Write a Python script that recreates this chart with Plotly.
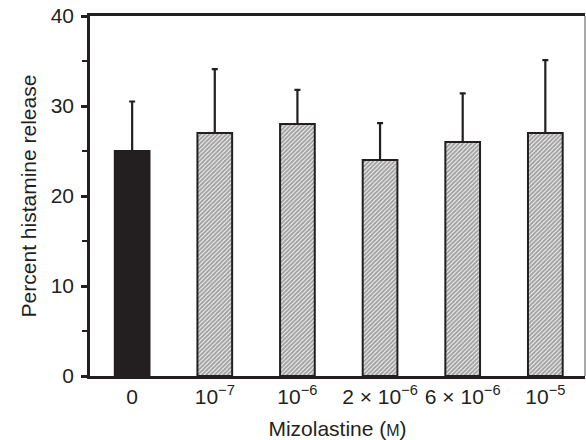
import plotly.graph_objects as go

# Data
categories = ["0", "10<sup>−7</sup>", "10<sup>−6</sup>", "2 × 10<sup>−6</sup>", "6 × 10<sup>−6</sup>", "10<sup>−5</sup>"]
values = [25, 27, 28, 24, 26, 27]
errors_up = [5.5, 7.1, 3.8, 4.1, 5.4, 8.1]
y_ticks = [0, 10, 20, 30, 40]

ink = "#231f20"
positions = list(range(len(categories)))

fig = go.Figure()
fig.add_trace(go.Bar(
    x=positions,
    y=values,
    width=0.42,
    marker=dict(
        color=[ink] + ["white"] * (len(values) - 1),
        line=dict(color=ink, width=2),
        pattern=dict(shape=[""] + ["/"] * (len(values) - 1), fgcolor=ink, size=3, solidity=0.7),
    ),
    error_y=dict(type="data", symmetric=False, array=errors_up, arrayminus=[0] * len(values),
                 color=ink, thickness=2.2, width=3),
    showlegend=False,
))

font_family = "Liberation Sans, Arial, sans-serif"
fs = 21

fig.update_layout(
    width=586, height=440,
    margin=dict(l=90, r=1, t=16, b=64),
    paper_bgcolor="white", plot_bgcolor="white",
    font=dict(family=font_family, size=fs, color=ink),
)
fig.update_xaxes(
    range=[-0.51, 5.48],
    tickvals=positions, ticktext=categories,
    showline=True, linecolor=ink, linewidth=2.5, mirror=True,
    ticks="", showgrid=False, zeroline=False, automargin=False,
    ticklabelstandoff=0,
    title=dict(text="Mizolastine (<span style='font-size:16px'>M</span>)", font=dict(size=fs), standoff=15),
    tickfont=dict(size=fs),
)
fig.update_yaxes(
    range=[0, 40],
    tickvals=y_ticks,
    showline=True, linecolor=ink, linewidth=2.5,
    ticks="outside", ticklen=6, tickwidth=2.5, tickcolor=ink,
    minor=dict(dtick=5, ticks="outside", ticklen=5, tickwidth=2, tickcolor=ink, showgrid=False),
    showgrid=False, zeroline=False, automargin=False,
    ticklabelstandoff=3,
    title=dict(text="Percent histamine release", font=dict(size=fs), standoff=9),
    tickfont=dict(size=fs),
)
# thin right border of the frame
fig.add_shape(type="line", xref="paper", yref="paper", x0=1, x1=1, y0=0, y1=1,
              line=dict(color="#555", width=1))

fig.write_html("out.html", config={"displayModeBar": False},
               post_script="document.body.style.margin='0';document.body.style.overflow='hidden';")
